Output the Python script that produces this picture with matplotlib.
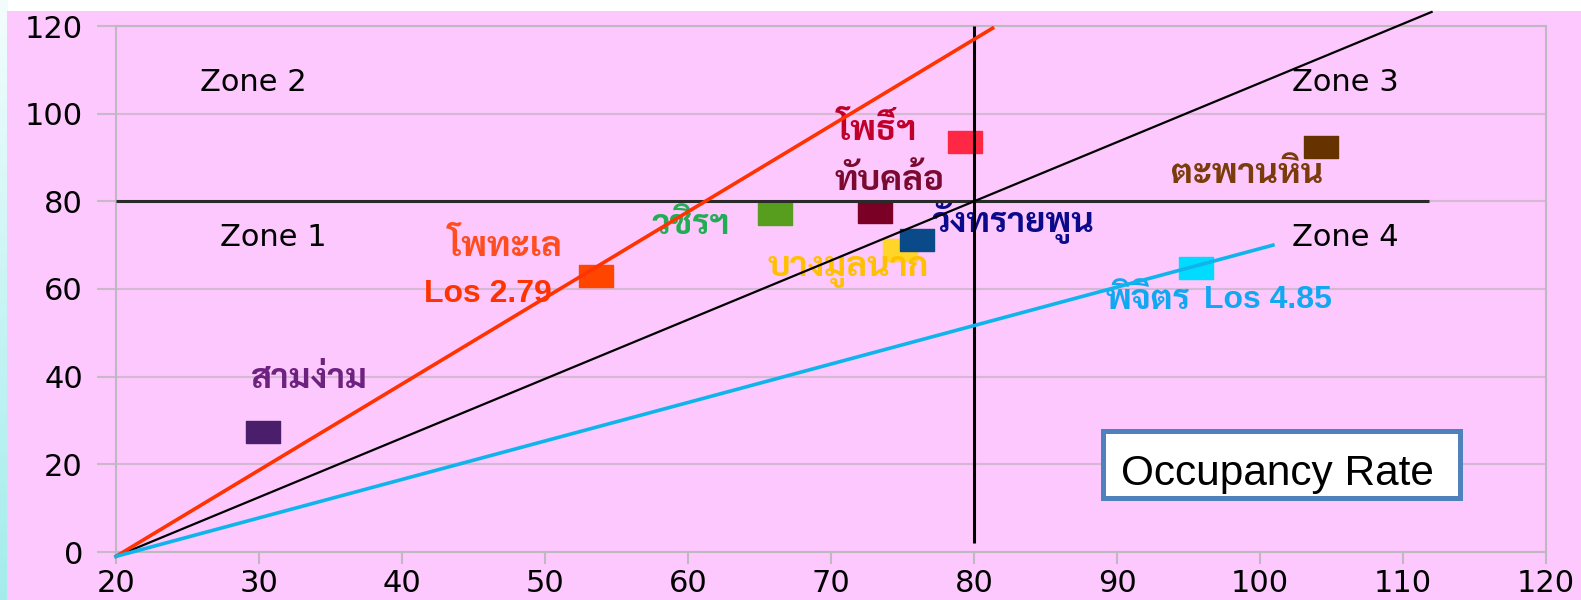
import matplotlib
matplotlib.use("Agg")
import matplotlib.pyplot as plt
import numpy as np
from matplotlib.patches import Rectangle

# ---- data -------------------------------------------------------------
hospitals = ["สามง่าม", "โพทะเล", "วชิรฯ", "ทับคล้อ", "บางมูลนาก",
             "วังทรายพูน", "โพธิ์ฯ", "ตะพานหิน", "พิจิตร"]
occupancy = [30.3, 53.6, 66.1, 73.1, 74.8, 76.0, 79.4, 104.3, 95.5]
turnover = [27.4, 62.9, 77.1, 77.6, 68.9, 71.2, 93.5, 92.4, 64.8]
marker_colors = ["#4a1e6a", "#ff4500", "#579e1e", "#7a0026", "#ffd52a",
                 "#0a4a88", "#ff2844", "#663300", "#00dcff"]

# reference lines (x, y pairs)
los_low_x, los_low_y = [20, 81.3], [-1, 119.5]      # Los 2.79
mid_x, mid_y = [20, 112.0], [-1, 123.2]
los_high_x, los_high_y = [20, 100.9], [-1, 70.0]    # Los 4.85
hline_x, hline_y = [20, 111.8], [80, 80]
vline_x, vline_y = [80, 80], [2, 120]

x_ticks = [20, 30, 40, 50, 60, 70, 80, 90, 100, 110, 120]
y_ticks = [0, 20, 40, 60, 80, 100, 120]
zones = ["Zone 1", "Zone 2", "Zone 3", "Zone 4"]
los_labels = ["Los 2.79", "Los 4.85"]

THAI = ["Sarabun", "DejaVu Sans"]
LATIN_BOLD = "Liberation Sans"

# ---- figure -----------------------------------------------------------
W, H = 1581, 600
PX = 72 / 100  # points per pixel at 100 dpi
fig = plt.figure(figsize=(W / 100, H / 100), dpi=100, facecolor="white")
fig.patches.append(Rectangle((7 / W, 0), 1, (H - 11) / H, transform=fig.transFigure,
                             facecolor="#fdc8fd", edgecolor="none", zorder=-5))

# slide edge: soft cyan strip on the left
strip = fig.add_axes([0, 0, 7 / W, 1], zorder=-6)
grad = np.linspace(0, 1, 256)[:, None]
strip.imshow(grad, aspect="auto", cmap=matplotlib.colors.LinearSegmentedColormap.from_list(
    "edge", ["#f4fdfd", "#c8f4f4", "#a4ecec"]), origin="upper")
strip.set_axis_off()

ax = fig.add_axes([116 / W, 1 - 552 / H, 1430 / W, 526 / H])
ax.set_facecolor("none")
ax.set_xlim(20, 120)
ax.set_ylim(0, 120)

ax.set_xticks(x_ticks)
ax.set_yticks(y_ticks)
ax.tick_params(axis="x", length=12 * PX, width=1.5, color="#c0b8c0", pad=5 * PX, labelsize=22)
ax.tick_params(axis="y", length=19 * PX, width=1.5, color="#c8b8c8", pad=14 * PX, labelsize=22)
for s in ax.spines.values():
    s.set_color("#c0b8c0")
    s.set_linewidth(1.5)
ax.yaxis.grid(True, color="#d4b8d4", lw=1.5)
ax.set_axisbelow(True)

rect_marker = [(-1.6, -1), (1.6, -1), (1.6, 1), (-1.6, 1), (-1.6, -1)]
for xi, yi, c in zip(occupancy, turnover, marker_colors):
    ax.plot(xi, yi, marker=rect_marker, markersize=24.5, color=c, mec=c, lw=0, zorder=3)

ax.plot(hline_x, hline_y, color="#2a2a2a", lw=2.2, zorder=5, solid_capstyle="butt")
ax.plot(vline_x, vline_y, color="black", lw=2.2, zorder=5, solid_capstyle="butt")
ax.plot(mid_x, mid_y, color="black", lw=1.6, zorder=5, clip_on=False)
ax.plot(los_low_x, los_low_y, color="#ff3300", lw=2.6, zorder=5, clip_on=False)
ax.plot(los_high_x, los_high_y, color="#10b4ec", lw=2.6, zorder=5, clip_on=False)

zone_pos = [(31.0, 71.8), (29.6, 107), (106.0, 107), (106.0, 71.8)]
for z, (zx, zy) in zip(zones, zone_pos):
    ax.text(zx, zy, z, fontsize=22, ha="center", va="center", color="black")

label_pos = [(33.5, 39.5), (47.2, 69.6), (60.2, 74.6), (74.1, 84.6), (71.2, 64.1),
             (82.7, 75.3), (73.2, 96.2), (99.1, 86.2)]
label_colors = ["#6e2280", "#ff4d20", "#22ad55", "#7a0a30", "#ffc000",
                "#0a0a8a", "#c0002a", "#7a3c0a"]
for name, (lx, ly), c in zip(hospitals, label_pos, label_colors):
    ax.text(lx, ly, name, family=THAI, fontsize=25, fontweight="bold",
            color=c, ha="center", va="center", zorder=4)

ax.text(46.0, 58.8, los_labels[0], family=LATIN_BOLD, fontweight="bold",
        fontsize=23, color="#ff3300", ha="center", va="center", zorder=4)
ax.text(89.2, 57.5, hospitals[8], family=THAI, fontweight="bold",
        fontsize=25, color="#10a8f0", ha="left", va="center", zorder=4)
ax.text(96.1, 57.5, los_labels[1], family=LATIN_BOLD, fontweight="bold",
        fontsize=23, color="#10a8f0", ha="left", va="center", zorder=4)

ax.add_patch(Rectangle((0.6899, 0.1036), 0.2497, 0.1255, transform=ax.transAxes,
                       facecolor="white", edgecolor="#4f81bd", lw=3.6, zorder=6))
ax.text(0.7028, 0.1274, "Occupancy Rate", transform=ax.transAxes, family="Liberation Sans",
        fontsize=30.5, color="black", ha="left", va="baseline", zorder=7)

fig.savefig("out.png", dpi=100, facecolor=fig.get_facecolor())
